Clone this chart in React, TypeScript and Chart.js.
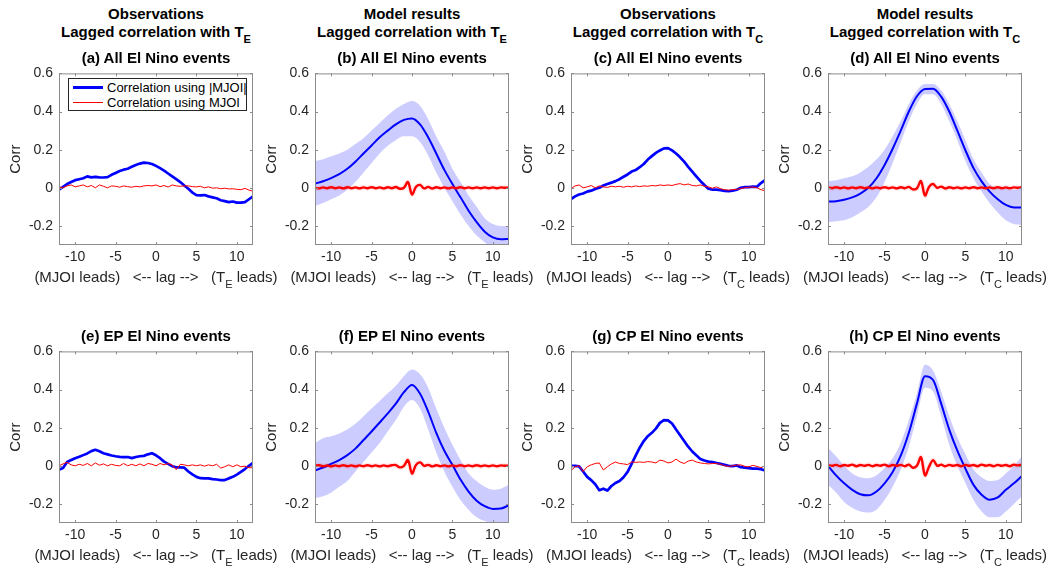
import React, { useEffect, useRef } from "react";
import { Chart, registerables } from "chart.js";

Chart.register(...registerables);

const FONT = '"Liberation Sans", Arial, Helvetica, sans-serif';
const AX = "#262626";

// ---------- categories / ticks ----------
const lagsObs = [
  -12, -11.5, -11, -10.5, -10, -9.5, -9, -8.5, -8, -7.5, -7, -6.5, -6, -5.5, -5, -4.5, -4, -3.5, -3, -2.5, -2, -1.5, -1, -0.5,
  0, 0.5, 1, 1.5, 2, 2.5, 3, 3.5, 4, 4.5, 5, 5.5, 6, 6.5, 7, 7.5, 8, 8.5, 9, 9.5, 10, 10.5, 11, 11.5, 12,
];
const lagsModel = [-12, -11, -10, -9, -8, -7, -6, -5, -4, -3, -2, -1, 0, 1, 2, 3, 4, 5, 6, 7, 8, 9, 10, 11, 12];
const xTickValues = [-10, -5, 0, 5, 10];
const yTickValues = [-0.2, 0, 0.2, 0.4, 0.6];

// ---------- observations (lagsObs) ----------
const obsA_abs = [-0.01, 0.005, 0.02, 0.03, 0.04, 0.045, 0.05, 0.06, 0.055, 0.057, 0.055, 0.054, 0.056, 0.068, 0.078, 0.088, 0.095, 0.1, 0.11, 0.12, 0.127, 0.132, 0.13, 0.125, 0.115, 0.103, 0.09, 0.075, 0.06, 0.045, 0.03, 0.012, -0.005, -0.025, -0.038, -0.04, -0.038, -0.045, -0.05, -0.055, -0.065, -0.07, -0.075, -0.072, -0.078, -0.078, -0.075, -0.06, -0.045];
const obsA_raw = [0.005, 0.0, 0.01, 0.015, 0.005, 0.01, 0.015, 0.005, 0.012, 0.0, 0.015, 0.008, 0.0, 0.01, 0.008, 0.003, 0.01, 0.006, 0.003, 0.008, 0.005, 0.01, 0.012, 0.01, 0.015, 0.006, 0.012, 0.004, 0.015, 0.01, 0.008, 0.01, 0.01, 0.006, 0.005, 0.008, 0.0, 0.005, -0.002, 0.0, -0.005, -0.002, -0.006, -0.005, -0.008, -0.01, -0.003, -0.012, -0.018];

const obsC_abs = [-0.06, -0.045, -0.035, -0.03, -0.02, -0.015, -0.006, 0.0, 0.012, 0.02, 0.027, 0.035, 0.045, 0.058, 0.07, 0.085, 0.093, 0.108, 0.125, 0.148, 0.166, 0.183, 0.196, 0.207, 0.208, 0.196, 0.18, 0.16, 0.137, 0.11, 0.085, 0.06, 0.036, 0.015, -0.005, -0.01, -0.01, -0.012, -0.016, -0.018, -0.015, -0.01, 0.0, 0.004, 0.004, 0.006, 0.005, 0.025, 0.04];
const obsC_raw = [-0.005, 0.01, 0.015, 0.0, 0.005, 0.012, 0.0, 0.01, 0.005, 0.002, 0.008, 0.005, 0.008, 0.003, 0.008, 0.005, 0.01, 0.006, 0.01, 0.008, 0.012, 0.01, 0.015, 0.012, 0.015, 0.012, 0.018, 0.022, 0.015, 0.02, 0.012, 0.01, 0.015, 0.008, 0.005, -0.002, 0.005, -0.005, -0.01, -0.012, -0.01, -0.008, -0.004, 0.0, 0.003, 0.004, 0.0, -0.01, -0.015];

const obsE_abs = [-0.02, -0.012, 0.02, 0.03, 0.04, 0.047, 0.056, 0.065, 0.077, 0.084, 0.076, 0.066, 0.06, 0.054, 0.05, 0.047, 0.046, 0.046, 0.04, 0.046, 0.05, 0.052, 0.06, 0.066, 0.055, 0.04, 0.022, 0.01, -0.002, -0.008, -0.008, -0.01, -0.03, -0.045, -0.058, -0.065, -0.066, -0.066, -0.07, -0.072, -0.075, -0.075, -0.066, -0.058, -0.046, -0.032, -0.017, 0.0, 0.015];
const obsE_raw = [0.0, 0.01, 0.018, 0.005, 0.0, 0.008, 0.002, 0.012, 0.0, 0.015, 0.003, 0.01, 0.0, 0.008, 0.002, 0.0, 0.012, 0.0, 0.008, 0.0, 0.01, 0.0, 0.012, 0.008, 0.0, 0.012, 0.005, 0.012, 0.005, -0.02, 0.008, 0.005, 0.0, 0.005, 0.0, 0.005, -0.002, 0.005, 0.0, 0.008, -0.012, -0.005, 0.005, -0.005, 0.005, -0.005, -0.002, -0.01, -0.01];

const obsG_abs = [0.0, 0.0, -0.003, -0.03, -0.058, -0.075, -0.097, -0.128, -0.12, -0.13, -0.106, -0.09, -0.08, -0.06, -0.032, 0.01, 0.053, 0.095, 0.13, 0.155, 0.173, 0.195, 0.225, 0.24, 0.238, 0.222, 0.19, 0.16, 0.13, 0.1, 0.075, 0.055, 0.036, 0.028, 0.022, 0.02, 0.015, 0.01, 0.005, 0.0, -0.002, 0.002, -0.007, -0.01, -0.012, -0.015, -0.015, -0.018, -0.024];
const obsG_raw = [-0.025, -0.005, 0.0, -0.03, -0.005, 0.005, 0.012, 0.015, -0.022, -0.005, 0.01, 0.02, 0.012, 0.01, 0.006, 0.02, 0.018, 0.02, 0.018, 0.022, 0.02, 0.015, 0.03, 0.025, 0.015, 0.02, 0.035, 0.02, 0.012, 0.025, 0.03, 0.02, 0.015, 0.012, 0.01, 0.012, 0.012, 0.008, 0.0, -0.003, 0.0, 0.004, 0.005, -0.003, -0.005, 0.002, -0.003, -0.01, 0.0];

// ---------- model results (lagsModel for |MJOI| mean and spread, lagsObs for MJOI) ----------
const modB_abs = [0.022, 0.034, 0.051, 0.072, 0.1, 0.137, 0.18, 0.222, 0.265, 0.3, 0.333, 0.356, 0.364, 0.333, 0.265, 0.18, 0.094, 0.02, -0.05, -0.12, -0.18, -0.23, -0.26, -0.27, -0.268];
const modB_hi = [0.14, 0.15, 0.165, 0.18, 0.2, 0.23, 0.26, 0.3, 0.34, 0.38, 0.415, 0.44, 0.455, 0.43, 0.36, 0.27, 0.19, 0.1, 0.03, -0.04, -0.1, -0.16, -0.19, -0.2, -0.2];
const modB_lo = [-0.095, -0.08, -0.06, -0.04, -0.01, 0.03, 0.08, 0.13, 0.18, 0.22, 0.25, 0.27, 0.27, 0.24, 0.17, 0.08, 0.0, -0.07, -0.14, -0.2, -0.25, -0.285, -0.32, -0.34, -0.34];
const modB_raw = [0.0, -0.003, 0.002, -0.002, 0.003, -0.002, 0.002, -0.003, 0.003, -0.002, 0.002, -0.003, 0.002, -0.002, 0.003, -0.002, 0.002, -0.003, 0.003, -0.002, 0.004, -0.005, 0.0, 0.03, -0.035, 0.005, 0.015, -0.003, 0.005, -0.004, 0.003, -0.002, 0.002, -0.003, 0.002, -0.002, 0.003, -0.002, 0.002, -0.002, 0.002, -0.002, 0.002, -0.002, 0.002, -0.002, 0.002, 0.0, 0.002];

const modD_abs = [-0.072, -0.07, -0.063, -0.05, -0.03, 0.0, 0.05, 0.12, 0.205, 0.3, 0.4, 0.48, 0.518, 0.52, 0.478, 0.4, 0.3, 0.197, 0.103, 0.034, -0.02, -0.06, -0.09, -0.103, -0.103];
const modD_hi = [0.035, 0.04, 0.05, 0.06, 0.08, 0.11, 0.15, 0.2, 0.27, 0.35, 0.44, 0.51, 0.545, 0.545, 0.51, 0.44, 0.35, 0.25, 0.15, 0.08, 0.02, 0.0, -0.005, -0.01, -0.005];
const modD_lo = [-0.18, -0.175, -0.17, -0.155, -0.13, -0.1, -0.05, 0.03, 0.13, 0.24, 0.35, 0.44, 0.49, 0.49, 0.44, 0.35, 0.25, 0.14, 0.05, -0.02, -0.08, -0.13, -0.17, -0.19, -0.195];
const modD_raw = [0.002, -0.002, 0.003, -0.002, 0.002, -0.003, 0.002, -0.002, 0.003, -0.002, 0.002, -0.003, 0.002, -0.002, 0.003, -0.002, 0.002, -0.003, 0.003, -0.002, 0.005, -0.008, -0.003, 0.035, -0.04, 0.005, 0.02, 0.0, 0.006, -0.004, 0.003, -0.002, 0.002, -0.003, 0.002, -0.002, 0.003, -0.002, 0.002, -0.002, 0.002, -0.002, 0.003, -0.002, 0.002, -0.002, 0.002, 0.0, 0.004];

const modF_abs = [-0.024, -0.009, 0.01, 0.03, 0.056, 0.09, 0.135, 0.18, 0.227, 0.275, 0.326, 0.386, 0.424, 0.378, 0.284, 0.173, 0.079, 0.005, -0.072, -0.135, -0.183, -0.212, -0.226, -0.224, -0.207];
const modF_hi = [0.12, 0.145, 0.155, 0.17, 0.19, 0.22, 0.26, 0.3, 0.34, 0.38, 0.42, 0.47, 0.505, 0.48, 0.41, 0.3, 0.2, 0.11, 0.03, -0.04, -0.08, -0.11, -0.125, -0.12, -0.1];
const modF_lo = [-0.17, -0.16, -0.14, -0.11, -0.08, -0.03, 0.02, 0.07, 0.12, 0.18, 0.24, 0.31, 0.345, 0.3, 0.19, 0.07, -0.03, -0.11, -0.18, -0.23, -0.27, -0.29, -0.305, -0.32, -0.32];
const modF_raw = [0.0, 0.003, -0.002, 0.002, -0.003, 0.002, -0.002, 0.003, -0.002, 0.002, -0.003, 0.002, -0.002, 0.003, -0.002, 0.002, -0.003, 0.002, -0.002, 0.003, 0.004, -0.008, 0.0, 0.03, -0.04, 0.005, 0.018, 0.0, 0.005, -0.003, 0.003, -0.002, 0.002, -0.003, 0.002, -0.002, 0.003, -0.002, 0.002, -0.002, 0.003, -0.002, 0.002, -0.002, 0.002, -0.002, 0.002, 0.0, 0.002];

const modH_abs = [0.0, -0.05, -0.092, -0.126, -0.149, -0.155, -0.135, -0.092, -0.032, 0.053, 0.173, 0.326, 0.47, 0.45, 0.326, 0.19, 0.079, -0.015, -0.1, -0.152, -0.178, -0.166, -0.126, -0.092, -0.053];
const modH_hi = [0.095, 0.05, 0.0, -0.04, -0.06, -0.065, -0.05, -0.01, 0.04, 0.12, 0.24, 0.38, 0.53, 0.5, 0.39, 0.26, 0.15, 0.06, -0.02, -0.06, -0.08, -0.075, -0.04, 0.0, 0.05];
const modH_lo = [-0.1, -0.14, -0.19, -0.22, -0.24, -0.245, -0.23, -0.18, -0.11, -0.02, 0.1, 0.26, 0.41, 0.39, 0.26, 0.11, 0.0, -0.09, -0.18, -0.24, -0.27, -0.27, -0.24, -0.2, -0.16];
const modH_raw = [0.004, 0.0, 0.005, -0.002, 0.004, 0.0, 0.006, -0.002, 0.004, 0.0, 0.005, -0.002, 0.004, 0.0, 0.006, -0.002, 0.004, 0.0, 0.005, -0.002, 0.006, -0.01, 0.0, 0.045, -0.05, -0.005, 0.03, 0.0, 0.006, -0.002, 0.005, 0.0, 0.004, -0.002, 0.005, 0.0, 0.004, -0.002, 0.006, 0.0, 0.004, -0.002, 0.005, 0.0, 0.004, -0.002, 0.006, 0.002, 0.006];

// ---------- text ----------
const headerTop = ["Observations", "Model results", "Observations", "Model results"];
const headerSub = ["E", "E", "C", "C"];
const panelTitles = [
  "(a) All El Nino events", "(b) All El Nino events", "(c) All El Nino events", "(d) All El Nino events",
  "(e) EP El Nino events", "(f) EP El Nino events", "(g) CP El Nino events", "(h) CP El Nino events",
];
const legendLabels = ["Correlation using |MJOI|", "Correlation using MJOI"];

type Spec = {
  col: number;
  row: number;
  kind: "obs" | "model";
  abs: number[];
  raw: number[];
  hi?: number[];
  lo?: number[];
};

const specs: Spec[] = [
  { col: 0, row: 0, kind: "obs", abs: obsA_abs, raw: obsA_raw },
  { col: 1, row: 0, kind: "model", abs: modB_abs, raw: modB_raw, hi: modB_hi, lo: modB_lo },
  { col: 2, row: 0, kind: "obs", abs: obsC_abs, raw: obsC_raw },
  { col: 3, row: 0, kind: "model", abs: modD_abs, raw: modD_raw, hi: modD_hi, lo: modD_lo },
  { col: 0, row: 1, kind: "obs", abs: obsE_abs, raw: obsE_raw },
  { col: 1, row: 1, kind: "model", abs: modF_abs, raw: modF_raw, hi: modF_hi, lo: modF_lo },
  { col: 2, row: 1, kind: "obs", abs: obsG_abs, raw: obsG_raw },
  { col: 3, row: 1, kind: "model", abs: modH_abs, raw: modH_raw, hi: modH_hi, lo: modH_lo },
];

// ---------- layout ----------
const plotLefts = [59, 315, 571, 828];
const plotTops = [69, 347];
const PW = 194;
const PH = 176;
const AXW = 55;
const PADT = 10;
const PADR = 6;
const AXH = 24;

const pts = (xs: number[], ys: number[]) => xs.map((x, i) => ({ x, y: ys[i] }));

const boxPlugin = {
  id: "matlabBox",
  afterDatasetsDraw(chart: any) {
    const { ctx, chartArea, scales } = chart;
    const { left, right, top, bottom } = chartArea;
    ctx.save();
    ctx.strokeStyle = "#8c8c8c";
    ctx.lineWidth = 1;
    ctx.strokeRect(left + 0.5, top + 0.5, right - left - 1, bottom - top - 1);
    ctx.beginPath();
    const tl = 3;
    for (const t of scales.x.ticks) {
      const px = Math.round(scales.x.getPixelForValue(t.value)) + 0.5;
      ctx.moveTo(px, bottom);
      ctx.lineTo(px, bottom - tl);
      ctx.moveTo(px, top);
      ctx.lineTo(px, top + tl);
    }
    for (const t of scales.y.ticks) {
      const py = Math.round(scales.y.getPixelForValue(t.value)) + 0.5;
      ctx.moveTo(left, py);
      ctx.lineTo(left + tl, py);
      ctx.moveTo(right, py);
      ctx.lineTo(right - tl, py);
    }
    ctx.stroke();
    ctx.restore();
  },
};

function PanelChart({ spec }: { spec: Spec }) {
  const ref = useRef<HTMLCanvasElement | null>(null);
  const w = AXW + PW + PADR;
  const h = PADT + PH + AXH;
  useEffect(() => {
    if (!ref.current) return;
    const datasets: any[] = [];
    if (spec.kind === "obs") {
      datasets.push({ data: pts(lagsObs, spec.raw), borderColor: "#ff0000", borderWidth: 1, tension: 0 });
      datasets.push({ data: pts(lagsObs, spec.abs), borderColor: "#0000ff", borderWidth: 2.7, tension: 0 });
    } else {
      datasets.push({ data: pts(lagsObs, spec.raw), borderColor: "#ff0000", borderWidth: 2.4, tension: 0.35 });
      datasets.push({ data: pts(lagsObs, spec.raw), borderColor: "rgba(255,0,0,0.09)", borderWidth: 5, tension: 0.35 });
      datasets.push({ data: pts(lagsModel, spec.abs), borderColor: "#0000ff", borderWidth: 2, cubicInterpolationMode: "monotone" });
      datasets.push({
        data: pts(lagsModel, spec.hi as number[]),
        borderWidth: 0,
        borderColor: "rgba(0,0,0,0)",
        backgroundColor: "rgba(0,0,255,0.2)",
        fill: "+1",
        cubicInterpolationMode: "monotone",
      });
      datasets.push({
        data: pts(lagsModel, spec.lo as number[]),
        borderWidth: 0,
        borderColor: "rgba(0,0,0,0)",
        fill: false,
        cubicInterpolationMode: "monotone",
      });
    }
    const chart = new Chart(ref.current, {
      type: "line",
      data: { datasets },
      plugins: [boxPlugin],
      options: {
        animation: false,
        responsive: false,
        maintainAspectRatio: false,
        layout: { padding: { top: PADT, right: PADR, left: 0, bottom: 0 } },
        elements: { point: { radius: 0, hoverRadius: 0 }, line: { borderJoinStyle: "round", borderCapStyle: "round" } },
        datasets: { line: { clip: 0 } } as any,
        plugins: { legend: { display: false }, tooltip: { enabled: false }, title: { display: false } },
        events: [],
        scales: {
          x: {
            type: "linear",
            min: -12,
            max: 12,
            afterBuildTicks: (s: any) => {
              s.ticks = xTickValues.map((value) => ({ value }));
            },
            afterFit: (s: any) => {
              s.height = AXH;
            },
            ticks: {
              autoSkip: false,
              maxRotation: 0,
              padding: 4,
              color: AX,
              font: { family: FONT, size: 14 },
              callback: (v: any) => String(v),
            },
            grid: { display: false, drawTicks: false },
            border: { display: false },
          },
          y: {
            type: "linear",
            min: -0.3,
            max: 0.6,
            afterBuildTicks: (s: any) => {
              s.ticks = yTickValues.map((value) => ({ value }));
            },
            afterFit: (s: any) => {
              s.width = AXW;
            },
            ticks: {
              autoSkip: false,
              padding: 6,
              color: AX,
              font: { family: FONT, size: 14 },
              callback: (v: any) => String(Math.round(v * 10) / 10),
            },
            grid: { display: false, drawTicks: false },
            border: { display: false },
            title: {
              display: true,
              text: "Corr",
              color: AX,
              font: { family: FONT, size: 15 },
              padding: { top: 3, bottom: 0 },
            },
          },
        },
      } as any,
    });
    return () => chart.destroy();
  }, [spec]);
  return (
    <canvas
      ref={ref}
      width={w}
      height={h}
      style={{
        position: "absolute",
        left: plotLefts[spec.col] - AXW,
        top: plotTops[spec.row] - PADT,
        width: w,
        height: h,
      }}
    />
  );
}

const subStyle = (size: number): React.CSSProperties => ({ fontSize: size, verticalAlign: "-6px", lineHeight: 0 });

export default function App() {
  return (
    <div
      style={{
        position: "absolute",
        left: 0,
        top: 0,
        width: 1048,
        height: 568,
        background: "#fff",
        overflow: "hidden",
        fontFamily: FONT,
      }}
    >
      {specs.map((s, i) => (
        <PanelChart key={i} spec={s} />
      ))}

      {headerTop.map((t, c) => (
        <div
          key={"h" + c}
          style={{
            position: "absolute",
            left: plotLefts[c] - 40,
            width: PW + 80,
            top: 5,
            textAlign: "center",
            fontWeight: "bold",
            fontSize: 15,
            lineHeight: "18px",
            color: "#000",
            whiteSpace: "nowrap",
          }}
        >
          <div>{t}</div>
          <div>
            Lagged correlation with T<sub style={subStyle(11)}>{headerSub[c]}</sub>
          </div>
        </div>
      ))}

      {specs.map((s, i) => (
        <div
          key={"t" + i}
          style={{
            position: "absolute",
            left: plotLefts[s.col] - 40,
            width: PW + 80,
            top: plotTops[s.row] - 20,
            textAlign: "center",
            fontWeight: "bold",
            fontSize: 15,
            lineHeight: "18px",
            color: "#000",
            whiteSpace: "nowrap",
          }}
        >
          {panelTitles[i]}
        </div>
      ))}

      {specs.map((s, i) => (
        <div
          key={"x" + i}
          style={{
            position: "absolute",
            left: plotLefts[s.col] - 40,
            width: PW + 80,
            top: plotTops[s.row] + PH + 32 - 9,
            textAlign: "center",
            fontSize: 15,
            lineHeight: "18px",
            color: AX,
            whiteSpace: "pre",
          }}
        >
          {"(MJOI leads)   <-- lag -->   (T"}
          <sub style={subStyle(11)}>{headerSub[s.col]}</sub>
          {" leads)"}
        </div>
      ))}

      <div
        style={{
          position: "absolute",
          left: 68,
          top: 78,
          width: 179,
          height: 33,
          boxSizing: "border-box",
          border: "1px solid #262626",
          background: "#fff",
          fontSize: 13,
          color: "#000",
        }}
      >
        <div style={{ position: "absolute", left: 4, top: 7, width: 30, height: 3, background: "#0000ff" }} />
        <div style={{ position: "absolute", left: 38, top: 0, lineHeight: "17px", whiteSpace: "nowrap" }}>{legendLabels[0]}</div>
        <div style={{ position: "absolute", left: 4, top: 23, width: 30, height: 1, background: "#ff0000" }} />
        <div style={{ position: "absolute", left: 38, top: 15, lineHeight: "17px", whiteSpace: "nowrap" }}>{legendLabels[1]}</div>
      </div>
    </div>
  );
}
